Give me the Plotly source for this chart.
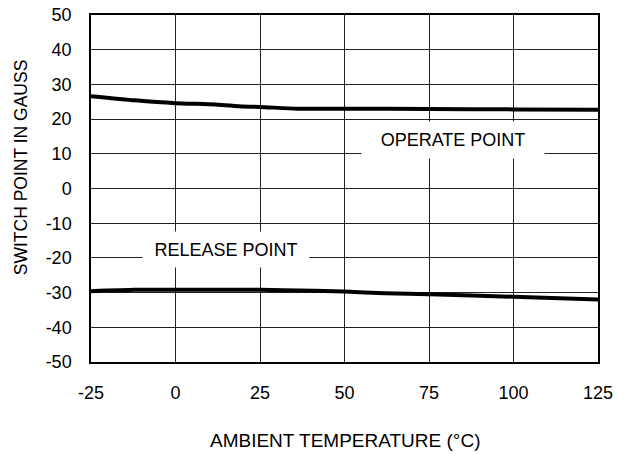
import plotly.graph_objects as go

# Data
temp_operate = [-25, -12, 0, 12, 20, 25, 36, 50, 75, 100, 125]
operate_gauss = [26.6, 25.4, 24.6, 24.2, 23.6, 23.5, 23.0, 23.0, 22.9, 22.8, 22.7]

temp_release = [-25, -12, 0, 25, 32, 50, 62, 75, 100, 125]
release_gauss = [-29.6, -29.2, -29.2, -29.2, -29.3, -29.7, -30.2, -30.5, -31.2, -32.0]

x_ticks = [-25, 0, 25, 50, 75, 100, 125]
y_ticks = [50, 40, 30, 20, 10, 0, -10, -20, -30, -40, -50]

FONT = "Liberation Sans, Arial, sans-serif"

fig = go.Figure()
fig.add_trace(go.Scatter(x=temp_operate, y=operate_gauss, mode="lines",
                         line=dict(color="black", width=4, shape="spline", smoothing=0.6),
                         showlegend=False, hoverinfo="skip"))
fig.add_trace(go.Scatter(x=temp_release, y=release_gauss, mode="lines",
                         line=dict(color="black", width=4, shape="spline", smoothing=0.6),
                         showlegend=False, hoverinfo="skip"))

fig.add_annotation(x=82, y=14, xref="x", yref="y", text="OPERATE POINT",
                   showarrow=False, bgcolor="white", width=180, height=34, borderpad=1,
                   font=dict(family=FONT, size=18, color="black"))
fig.add_annotation(x=15, y=-17.5, xref="x", yref="y", text="RELEASE POINT",
                   showarrow=False, bgcolor="white", width=164, height=33, borderpad=1,
                   font=dict(family=FONT, size=18, color="black"))

fig.add_annotation(x=0.5, y=-0.225, xref="paper", yref="paper",
                   xanchor="center", yanchor="middle",
                   text="AMBIENT TEMPERATURE (°C)", showarrow=False,
                   font=dict(family=FONT, size=19, color="black"))
fig.add_annotation(x=-0.139, y=0.56, xref="paper", yref="paper",
                   xanchor="center", yanchor="middle",
                   text="SWITCH POINT IN GAUSS", showarrow=False, textangle=-90,
                   font=dict(family=FONT, size=17.5, color="black"))

fig.update_xaxes(range=[-25, 125], tickvals=x_ticks, ticktext=[str(v) for v in x_ticks],
                 showgrid=True, gridcolor="#222", gridwidth=1,
                 showline=True, linecolor="black", linewidth=1.5, mirror=True,
                 ticks="", ticklabelstandoff=14, zeroline=False, automargin=False,
                 tickfont=dict(family=FONT, size=18, color="black"))
fig.update_yaxes(range=[-50, 50], tickvals=y_ticks, ticktext=[str(v) for v in y_ticks],
                 showgrid=True, gridcolor="#222", gridwidth=1,
                 showline=True, linecolor="black", linewidth=1.5, mirror=True,
                 ticks="", ticklabelstandoff=14, zeroline=False, automargin=False,
                 tickfont=dict(family=FONT, size=18, color="black"))

fig.update_layout(width=618, height=454, margin=dict(l=91, r=20, t=15, b=92, autoexpand=False),
                  plot_bgcolor="white", paper_bgcolor="white")

fig.write_html("out.html", config={"displayModeBar": False},
               post_script="document.body.style.margin='0';document.body.style.overflow='hidden';")
